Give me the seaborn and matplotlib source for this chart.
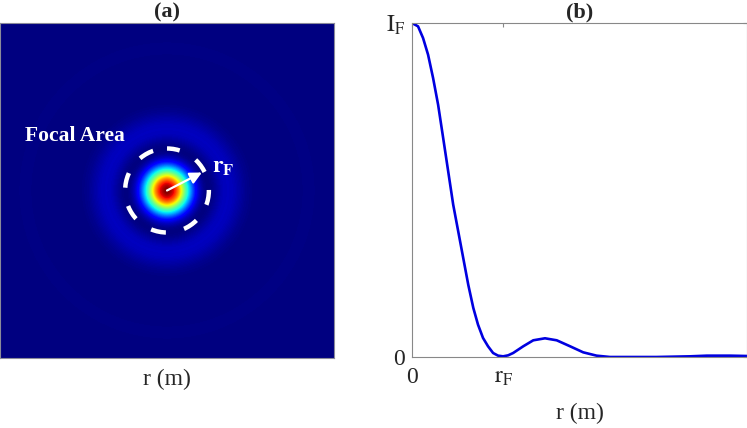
import numpy as np
import pandas as pd
import seaborn as sns
import matplotlib.pyplot as plt
from matplotlib.patches import Circle

# radial intensity profile, r normalised to the axis width
r_norm = [0.0, 0.018, 0.033, 0.048, 0.063, 0.078, 0.093, 0.108, 0.123, 0.138,
          0.153, 0.168, 0.183, 0.197, 0.212, 0.227, 0.242, 0.257, 0.272, 0.287,
          0.302, 0.332, 0.362, 0.397, 0.432, 0.472, 0.511, 0.551, 0.591, 0.73,
          0.83, 0.88, 0.95, 1.0]
intensity = [1.0, 0.99, 0.955, 0.905, 0.835, 0.755, 0.656, 0.556, 0.456, 0.376,
             0.296, 0.216, 0.147, 0.097, 0.057, 0.032, 0.012, 0.004, 0.002, 0.005,
             0.012, 0.032, 0.05, 0.056, 0.05, 0.032, 0.014, 0.004, 0.0, 0.0,
             0.002, 0.004, 0.004, 0.003]
r_focal = 0.272
x_ticklabels = ["0", r"$\mathrm{r_F}$"]
y_ticklabels = ["0", r"$\mathrm{I_F}$"]

sns.set_style("white")
plt.rcParams["font.family"] = ["Liberation Serif", "DejaVu Serif"]
plt.rcParams["mathtext.fontset"] = "stix"

fig = plt.figure(figsize=(7.47, 4.28), dpi=100)
ax1 = fig.add_axes([0.0, 70 / 428, 334 / 747, 335 / 428])
ax2 = fig.add_axes([412 / 747, 71 / 428, 335 / 747, 334 / 428])

# (a) focal spot: 2D map built from the radial profile
N = 335
R = 1.08
c = (np.arange(N) + 0.5 - N / 2) * (2 * R / N)
X, Y = np.meshgrid(c, c)
spot = np.interp(np.hypot(X, Y), r_norm, intensity)
sns.heatmap(spot, cmap="jet", vmin=0, vmax=1, cbar=False, xticklabels=False,
            yticklabels=False, ax=ax1, rasterized=True, linewidths=0,
            antialiased=False)
for s in ax1.spines.values():
    s.set_visible(True)
    s.set_color("#8a8a9a")
    s.set_linewidth(0.8)

cx = cy = N / 2
ax1.add_patch(Circle((cx, cy), 42, fill=False, ec="white", lw=3.2,
                     linestyle=(0.5, (3.4, 4.2))))
ax1.annotate("", xy=(cx + 35, cy - 18), xytext=(cx, cy),
             arrowprops=dict(arrowstyle="-|>,head_length=0.7,head_width=0.35",
                             color="white", lw=1.6, shrinkA=0, shrinkB=0))
ax1.text(cx + 45, cy - 23, r"$\mathbf{r_F}$", color="white", fontsize=17,
         ha="left", va="center")
ax1.text(25, 113, "Focal Area", color="white", fontsize=15.5,
         fontweight="bold", ha="left", va="center")
ax1.set_title("(a)", fontweight="bold", fontsize=16, pad=4)
ax1.set_xlabel("r (m)", fontsize=17, labelpad=8)

# (b) intensity profile
df = pd.DataFrame({"r": r_norm, "I": intensity})
sns.lineplot(data=df, x="r", y="I", color="#0000e0", lw=1.9, ax=ax2)
ax2.set_xlim(0, 1)
ax2.set_ylim(0, 1)
ax2.set_xticks([0, r_focal])
ax2.set_xticklabels(x_ticklabels, fontsize=17)
ax2.set_yticks([0, 1])
ax2.set_yticklabels(y_ticklabels, fontsize=17)
ax2.tick_params(direction="in", length=3, color="#888888", top=True,
                right=True)
ax2.tick_params(axis="x", pad=7)
ax2.tick_params(axis="y", pad=5)
for s in ax2.spines.values():
    s.set_color("#888888")
    s.set_linewidth(0.8)
ax2.set_title("(b)", fontweight="bold", fontsize=16, pad=4)
ax2.set_xlabel("r (m)", fontsize=17, labelpad=11)
ax2.set_ylabel("")

fig.savefig("out.png", dpi=100)
